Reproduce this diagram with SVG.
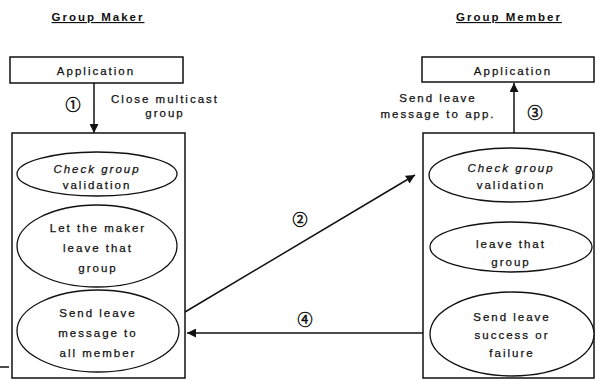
<svg xmlns="http://www.w3.org/2000/svg" width="596" height="381" viewBox="0 0 596 381">
<style>
text{font-family:"Liberation Sans",Arial,sans-serif;font-size:11.5px;letter-spacing:2px;fill:#111;stroke:#111;stroke-width:0.25;text-anchor:middle}
.t{font-weight:bold;text-decoration:underline;stroke:none}
.i{font-style:italic}
.n{font-family:"Noto Sans CJK JP","Noto Sans CJK SC",sans-serif;font-size:15px;letter-spacing:0;stroke-width:0.5}
.b{fill:#fff;stroke:#111;stroke-width:1.5}
.e{fill:#fff;stroke:#111;stroke-width:1.3}
.c{fill:none;stroke:#111;stroke-width:1.5}
</style>
<defs>
<marker id="ah" viewBox="0 0 10 10" refX="10" refY="5" markerWidth="9" markerHeight="9" markerUnits="userSpaceOnUse" orient="auto">
<path d="M0,0 L10,5 L0,10 z" fill="#111"/>
</marker>
</defs>
<text class="t" x="98" y="21">Group Maker</text>
<text class="t" x="509" y="21">Group Member</text>

<g id="maker-app">
<rect class="b" x="10" y="57" width="173" height="26"/>
<text x="96" y="75">Application</text>
</g>
<g id="member-app">
<rect class="b" x="422" y="57" width="172" height="25"/>
<text x="513" y="75">Application</text>
</g>

<g id="maker-box">
<rect class="b" x="12" y="133" width="173" height="245"/>
</g>
<g id="member-box">
<rect class="b" x="423" y="133" width="171" height="245"/>
</g>

<g id="m1">
<ellipse class="e" cx="97" cy="174" rx="80" ry="22"/>
<text class="i" x="97" y="173">Check group</text>
<text x="97" y="189">validation</text>
</g>
<g id="m2">
<ellipse class="e" cx="97" cy="246" rx="80" ry="41"/>
<text x="98" y="232">Let the maker</text>
<text x="98" y="252">leave that</text>
<text x="98" y="272">group</text>
</g>
<g id="m3">
<ellipse class="e" cx="98" cy="331" rx="81" ry="41"/>
<text x="98" y="317">Send leave</text>
<text x="98" y="337">message to</text>
<text x="98" y="357">all member</text>
</g>

<g id="g1">
<ellipse class="e" cx="511" cy="175" rx="82" ry="27"/>
<text class="i" x="511" y="172">Check group</text>
<text x="511" y="189">validation</text>
</g>
<g id="g2">
<ellipse class="e" cx="511" cy="247" rx="81" ry="25"/>
<text x="511" y="248">leave that</text>
<text x="511" y="266">group</text>
</g>
<g id="g3">
<ellipse class="e" cx="512" cy="334" rx="82" ry="42"/>
<text x="512" y="321">Send leave</text>
<text x="512" y="339">success or</text>
<text x="512" y="357">failure</text>
</g>

<g id="connectors">
<line class="c" x1="94" y1="83" x2="94" y2="133" marker-end="url(#ah)"/>
<line class="c" x1="514" y1="133" x2="514" y2="83" marker-end="url(#ah)"/>
<line class="c" x1="185" y1="312" x2="415" y2="175" marker-end="url(#ah)"/>
<line class="c" x1="423" y1="333" x2="187" y2="333" marker-end="url(#ah)"/>
<line class="c" x1="0" y1="367" x2="9" y2="367" stroke-width="1"/>
</g>

<text class="n" x="73" y="110">①</text>
<text x="165" y="103">Close multicast</text>
<text x="165" y="117">group</text>
<text x="438" y="102">Send leave</text>
<text x="438" y="118">message to app.</text>
<text class="n" x="535" y="118">③</text>
<text class="n" x="300" y="225">②</text>
<text class="n" x="305" y="325">④</text>
</svg>
